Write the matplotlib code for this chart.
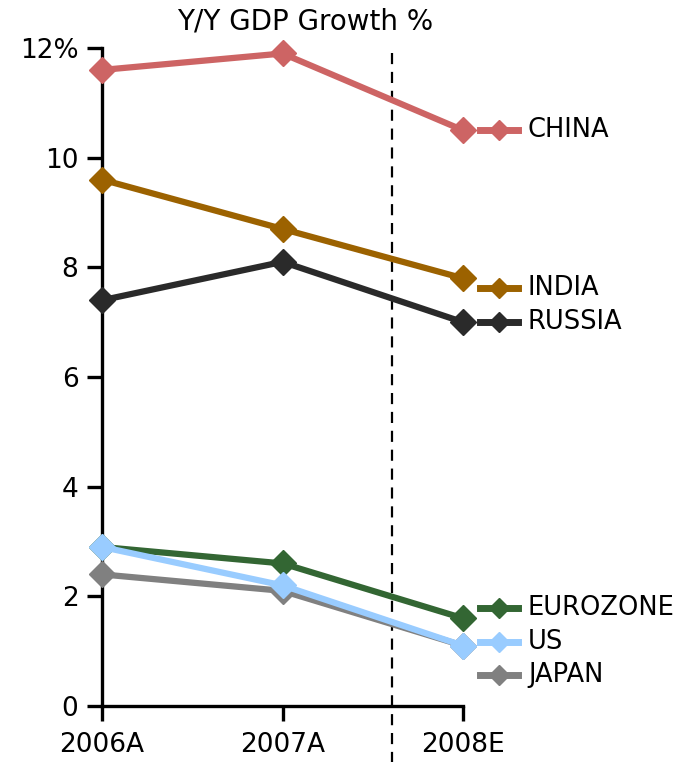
import matplotlib
matplotlib.use("Agg")
import matplotlib.pyplot as plt

# data
years = ["2006A", "2007A", "2008E"]
countries = ["JAPAN", "EUROZONE", "US", "RUSSIA", "INDIA", "CHINA"]
china = [11.6, 11.9, 10.5]
india = [9.6, 8.7, 7.8]
russia = [7.4, 8.1, 7.0]
eurozone = [2.9, 2.6, 1.6]
us = [2.9, 2.2, 1.1]
japan = [2.4, 2.1, 1.1]

series = {"CHINA": china, "INDIA": india, "RUSSIA": russia,
          "EUROZONE": eurozone, "US": us, "JAPAN": japan}
colors = {"CHINA": "#CD6464", "INDIA": "#9C6200", "RUSSIA": "#2A2A2A",
          "EUROZONE": "#336633", "US": "#99CCFF", "JAPAN": "#808080"}
# where the side labels sit (y, in data units)
label_y = {"CHINA": 10.5, "INDIA": 7.62, "RUSSIA": 7.0,
           "EUROZONE": 1.79, "US": 1.17, "JAPAN": 0.57}

plt.rcParams['font.family'] = ['DejaVu Sans']

fig = plt.figure(figsize=(6.96, 7.62), dpi=100)
ax = fig.add_axes([102/696, 56/762, 361/696, 658/762])

x = list(range(len(years)))
for name in countries:
    ax.plot(x, series[name], color=colors[name], lw=4.5, marker="D",
            ms=13, clip_on=False, zorder=3)
    # side label
    ax.plot([2.095, 2.305], [label_y[name]] * 2, color=colors[name], lw=5,
            clip_on=False, zorder=3)
    ax.plot([2.2], [label_y[name]], color=colors[name], marker="D", ms=10,
            clip_on=False, zorder=3)
    ax.text(2.36, label_y[name], name, fontsize=18.5, va="center", ha="left")

ax.axvline(1.607, ymin=-0.09, ymax=1.0, color="black", lw=1.6,
           ls=(0, (5, 3.5)), clip_on=False)

ax.set_xlim(0, 2)
ax.set_ylim(0, 12)
ax.set_xticks(x)
ax.set_xticklabels(years)
ax.set_yticks([0, 2, 4, 6, 8, 10, 12])
ax.set_yticklabels(["0", "2", "4", "6", "8", "10", "12%"])
ax.tick_params(axis="both", direction="out", length=11, width=2.4,
               labelsize=19)
ax.tick_params(axis="y", pad=6)
ax.tick_params(axis="x", pad=8)
for side in ["top", "right"]:
    ax.spines[side].set_visible(False)
for side in ["left", "bottom"]:
    ax.spines[side].set_linewidth(2.4)

fig.text(305/696, 1 - 22/762, "Y/Y GDP Growth %", fontsize=20,
         ha="center", va="center")

fig.savefig("out.png", dpi=100)
